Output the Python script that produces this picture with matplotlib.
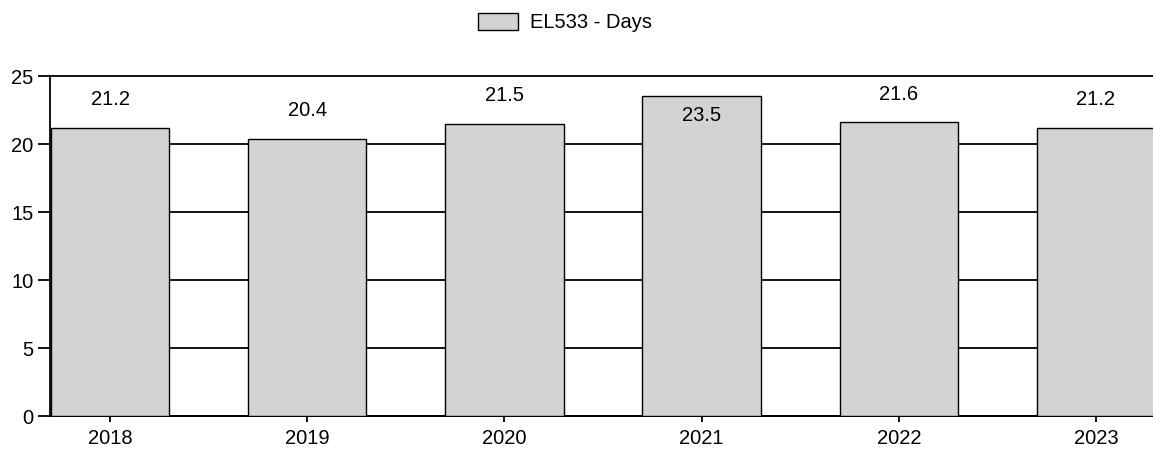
import matplotlib.pyplot as plt
import numpy as np

plt.rcParams['font.family'] = ['Liberation Sans', 'DejaVu Sans']

years = ['2018', '2019', '2020', '2021', '2022', '2023']
days = [21.2, 20.4, 21.5, 23.5, 21.6, 21.2]
yticks = [0, 5, 10, 15, 20, 25]

fig = plt.figure(figsize=(11.53, 4.49), dpi=100)
ax = fig.add_axes([50 / 1153, 1 - 416 / 449, 1110 / 1153, 340 / 449])

x = np.arange(len(years))
bars = ax.bar(x, days, width=0.6, color='#d3d3d3', edgecolor='black',
              linewidth=1.0, label='EL533 - Days', zorder=3)

ax.set_xlim(-0.305, 5.325)
ax.set_ylim(0, 25)
ax.set_yticks(yticks)
ax.set_xticks(x)
ax.set_xticklabels(years)
ax.yaxis.grid(True, color='black', linewidth=1.3, zorder=0)
ax.set_axisbelow(True)
for line in ax.get_ygridlines():
    line.set_clip_on(False)
for s in ['top', 'right']:
    ax.spines[s].set_visible(False)
ax.spines['left'].set_linewidth(1.3)
ax.spines['bottom'].set_linewidth(1.3)
ax.tick_params(axis='y', labelsize=14.5, length=8.6, width=1.3, direction='out', pad=3.4)
ax.tick_params(axis='x', labelsize=14.5, length=4.5, width=1.3, direction='out', pad=4.5)

for xi, v in zip(x, days):
    if v + 2.3 > 25:
        ax.annotate(f'{v}', (xi, v), xytext=(0, -19), textcoords='offset pixels',
                    ha='center', va='center', fontsize=14.5, zorder=4)
    else:
        ax.annotate(f'{v}', (xi, v), xytext=(0, 28), textcoords='offset pixels',
                    ha='center', va='center', fontsize=14.5, zorder=4)

fig.legend(loc='center', bbox_to_anchor=(0.49, 1 - 22.5 / 449), frameon=False,
           fontsize=14.5, handlelength=2.0, handleheight=0.95, handletextpad=0.6)

fig.savefig('out.png', dpi=100)
